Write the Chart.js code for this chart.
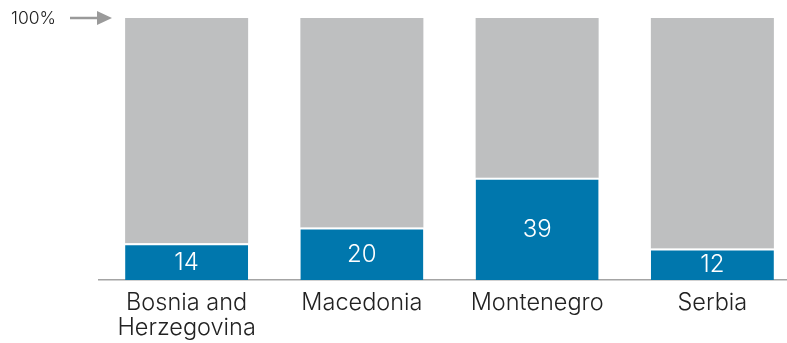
<!DOCTYPE html>
<html>
<head>
<meta charset="utf-8">
<script src="https://cdn.jsdelivr.net/npm/chart.js@4"></script>
<style>
  html, body { margin: 0; padding: 0; background: #fff; overflow: hidden; }
  #wrap { width: 800px; height: 343px; }
</style>
</head>
<body>
<div id="wrap"><canvas id="shareChart"></canvas></div>
<script>
var countries = [["Bosnia and", "Herzegovina"], "Macedonia", "Montenegro", "Serbia"];
var shares = [14, 20, 39, 12];
var remainder = shares.map(v => 100 - v);
var topTick = [100];
var topTickLabels = ["100%"];

var FONT = "Inter, 'Liberation Sans', Arial, sans-serif";

// white numbers inside the blue segments
var valueLabels = {
    id: "valueLabels",
    afterDatasetsDraw(chart) {
        var ctx = chart.ctx;
        var meta = chart.getDatasetMeta(0);
        ctx.save();
        ctx.fillStyle = "#ffffff";
        ctx.font = "300 24px " + FONT;
        ctx.textAlign = "center";
        ctx.textBaseline = "middle";
        meta.data.forEach((bar, i) => {
            var p = bar.getProps(["x", "y", "base"], true);
            ctx.fillText(shares[i], p.x, (p.y + p.base) / 2 + 1);
        });
        ctx.restore();
    }
};

// "100%" marker with an arrow pointing at the top of the bars
var topMarker = {
    id: "topMarker",
    afterDraw(chart) {
        var ctx = chart.ctx;
        var y = chart.scales.y.getPixelForValue(topTick[0]);
        ctx.save();
        ctx.fillStyle = "#222";
        ctx.font = "300 17.5px " + FONT;
        ctx.textAlign = "left";
        ctx.textBaseline = "middle";
        ctx.fillText(topTickLabels[0], 11, y + 1);
        ctx.strokeStyle = "#9a9a9a";
        ctx.lineWidth = 2.5;
        ctx.beginPath();
        ctx.moveTo(70, y);
        ctx.lineTo(100, y);
        ctx.stroke();
        ctx.fillStyle = "#9a9a9a";
        ctx.beginPath();
        ctx.moveTo(97, y - 7);
        ctx.lineTo(112, y);
        ctx.lineTo(97, y + 7);
        ctx.closePath();
        ctx.fill();
        ctx.restore();
    }
};

new Chart(document.getElementById("shareChart"), {
    type: "bar",
    data: {
        labels: countries,
        datasets: [{
            data: shares,
            backgroundColor: "#0077ad",
            borderColor: "#ffffff",
            borderWidth: {top: 2, left: 0, right: 0, bottom: 0},
            borderSkipped: false
        }, {
            data: remainder,
            backgroundColor: "#bebfc0",
            borderWidth: 0
        }]
    },
    options: {
        responsive: true,
        maintainAspectRatio: false,
        animation: false,
        events: [],
        layout: {padding: {left: 99, top: 18, right: 0, bottom: 0}},
        plugins: {legend: {display: false}, tooltip: {enabled: false}},
        datasets: {bar: {categoryPercentage: 1, barPercentage: 0.702}},
        scales: {
            x: {
                stacked: true,
                grid: {display: false},
                border: {display: true, color: "#a4a4a4", width: 1.5},
                ticks: {
                    color: "#222",
                    padding: 3,
                    maxRotation: 0,
                    font: {family: FONT, size: 23.5, weight: 300, lineHeight: 1.05}
                },
                afterFit(scale) { scale.height = 63; }
            },
            y: {
                stacked: true,
                display: false,
                min: 0,
                max: 100
            }
        }
    },
    plugins: [valueLabels, topMarker]
});
</script>
</body>
</html>
